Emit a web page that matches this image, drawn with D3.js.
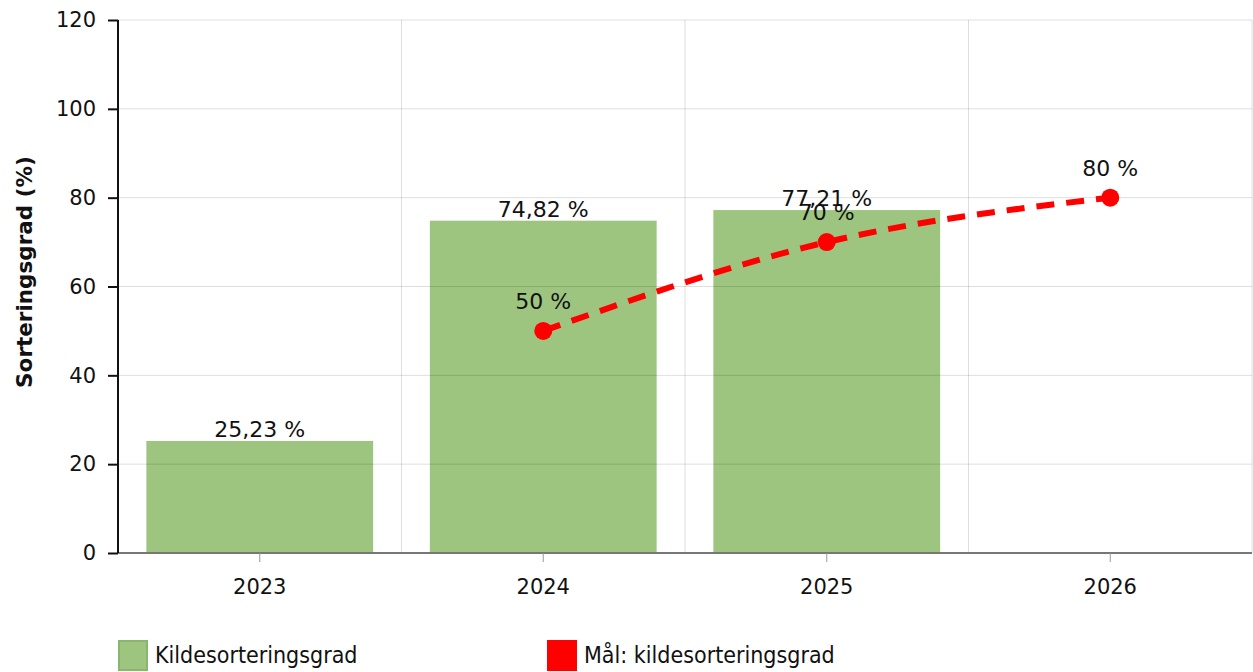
<!DOCTYPE html>
<html>
<head>
<meta charset="utf-8">
<script src="https://cdn.jsdelivr.net/npm/d3@7"></script>
<style>
  body { margin: 0; background: #fff; }
  svg { display: block; font-family: "DejaVu Sans", Verdana, sans-serif; }
</style>
</head>
<body>
<div id="chart"></div>
<script>
const years = ['2023', '2024', '2025', '2026'];
const sortingRate = [25.23, 74.82, 77.21, null];
const targetRate = [null, 50, 70, 80];
const yTicks = [0, 20, 40, 60, 80, 100, 120];

const width = 1253, height = 672;
const margin = { top: 20, right: 1, bottom: 119, left: 118 };
const innerWidth = width - margin.left - margin.right;
const innerHeight = height - margin.top - margin.bottom;
const FONT = '"DejaVu Sans", Verdana, sans-serif';

const fmt = v => v.toFixed(2).replace('.', ',') + ' %';
const fmtTarget = v => v + ' %';

const svg = d3.select('#chart')
  .append('svg')
  .attr('width', width)
  .attr('height', height);

const g = svg.append('g')
  .attr('transform', `translate(${margin.left},${margin.top})`);

// Scales
const xScale = d3.scaleBand()
  .domain(years)
  .range([0, innerWidth])
  .paddingInner(0.2)
  .paddingOuter(0.1);

const yScale = d3.scaleLinear()
  .domain([0, 120])
  .range([innerHeight, 0]);

const step = xScale.step();

// Bars
const barData = years.map((y, i) => ({ year: y, value: sortingRate[i] })).filter(d => d.value != null);

g.selectAll('.bar')
  .data(barData)
  .enter()
  .append('rect')
  .attr('class', 'bar')
  .attr('x', d => xScale(d.year))
  .attr('width', xScale.bandwidth())
  .attr('y', d => yScale(d.value))
  .attr('height', d => innerHeight - yScale(d.value))
  .attr('fill', '#9dc580');

// Grid lines (drawn on top, faint)
const gridGroup = g.append('g').attr('class', 'grid');

gridGroup.selectAll('.grid-h')
  .data(yTicks.filter(d => d > 0))
  .enter()
  .append('line')
  .attr('x1', 0)
  .attr('x2', innerWidth)
  .attr('y1', d => yScale(d))
  .attr('y2', d => yScale(d))
  .attr('stroke', '#000')
  .attr('stroke-opacity', 0.13)
  .attr('stroke-width', 1);

gridGroup.selectAll('.grid-v')
  .data(years)
  .enter()
  .append('line')
  .attr('x1', d => xScale(d) - xScale.paddingInner() * step / 2 + step)
  .attr('x2', d => xScale(d) - xScale.paddingInner() * step / 2 + step)
  .attr('y1', 0)
  .attr('y2', innerHeight)
  .attr('stroke', '#000')
  .attr('stroke-opacity', 0.13)
  .attr('stroke-width', 1);

// X Axis
g.append('g')
  .attr('transform', `translate(0,${innerHeight})`)
  .call(d3.axisBottom(xScale).tickSize(9).tickPadding(17))
  .call(a => a.select('.domain').attr('stroke', '#777').attr('stroke-width', 2).attr('d', `M0,0H${innerWidth}`))
  .call(a => a.selectAll('line').attr('stroke', '#999'))
  .call(a => a.selectAll('text').attr('fill', '#111').style('font-size', '21px').style('font-family', FONT));

// Y Axis
g.append('g')
  .call(d3.axisLeft(yScale).tickValues(yTicks).tickSize(10).tickPadding(12))
  .call(a => a.select('.domain').attr('stroke', '#111').attr('stroke-width', 2).attr('d', `M0,0V${innerHeight}`))
  .call(a => a.selectAll('line').attr('stroke', '#111').attr('stroke-width', 2))
  .call(a => a.selectAll('text').attr('fill', '#111').style('font-size', '21px').style('font-family', FONT));

// Y Axis title
g.append('text')
  .attr('transform', 'rotate(-90)')
  .attr('x', -innerHeight / 2 + 14.5)
  .attr('y', -86)
  .attr('text-anchor', 'middle')
  .attr('fill', '#111')
  .style('font-size', '21.5px')
  .style('font-weight', 'bold')
  .text('Sorteringsgrad (%)');

// Bar value labels
g.selectAll('.bar-label')
  .data(barData)
  .enter()
  .append('text')
  .attr('x', d => xScale(d.year) + xScale.bandwidth() / 2)
  .attr('y', d => yScale(d.value) - 4)
  .attr('text-anchor', 'middle')
  .attr('fill', '#111')
  .style('font-size', '22px')
  .text(d => fmt(d.value));

// Target line
const targets = years.map((y, i) => ({ year: y, value: targetRate[i] })).filter(d => d.value != null);
const cx = d => xScale(d.year) + xScale.bandwidth() / 2;

const line = d3.line()
  .x(cx)
  .y(d => yScale(d.value))
  .curve(d3.curveMonotoneX);

g.append('path')
  .datum(targets)
  .attr('d', line)
  .attr('fill', 'none')
  .attr('stroke', '#ff0000')
  .attr('stroke-width', 6)
  .attr('stroke-dasharray', '18,12');

g.selectAll('.target-pt')
  .data(targets)
  .enter()
  .append('circle')
  .attr('cx', cx)
  .attr('cy', d => yScale(d.value))
  .attr('r', 9)
  .attr('fill', '#ff0000');

g.selectAll('.target-label')
  .data(targets)
  .enter()
  .append('text')
  .attr('x', cx)
  .attr('y', d => yScale(d.value) - 22)
  .attr('text-anchor', 'middle')
  .attr('fill', '#111')
  .style('font-size', '22px')
  .text(d => fmtTarget(d.value));

// Legend
const legendItems = [
  { label: 'Kildesorteringsgrad', fill: '#9dc580', stroke: '#8ab56c', x: 118 },
  { label: 'Mål: kildesorteringsgrad', fill: '#ff0000', stroke: '#ff0000', x: 547 }
];

const legend = svg.append('g').attr('class', 'legend');

const items = legend.selectAll('.legend-item')
  .data(legendItems)
  .enter()
  .append('g')
  .attr('transform', d => `translate(${d.x},640)`);

items.append('rect')
  .attr('x', 1)
  .attr('y', 1)
  .attr('width', 28)
  .attr('height', 29)
  .attr('fill', d => d.fill)
  .attr('stroke', d => d.stroke)
  .attr('stroke-width', 2);

items.append('text')
  .attr('x', 37)
  .attr('y', 23)
  .attr('fill', '#111')
  .style('font-size', '23px')
  .style('font-family', '"DejaVu Sans Condensed", "DejaVu Sans", sans-serif')
  .text(d => d.label);
</script>
</body>
</html>
